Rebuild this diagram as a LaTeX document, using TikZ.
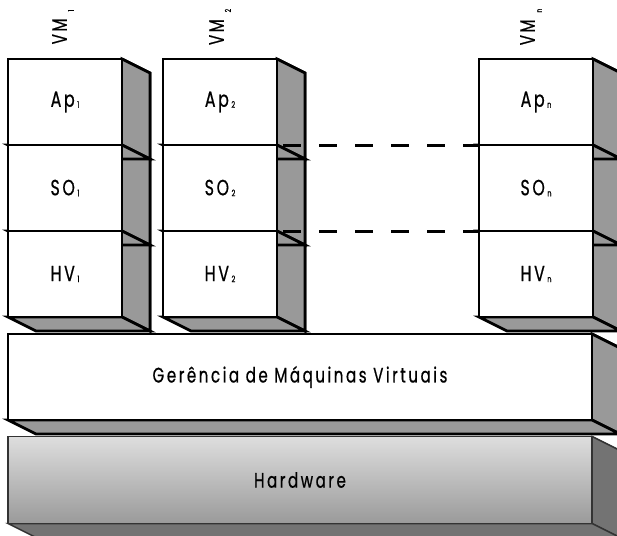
\documentclass[tikz,border=0pt]{standalone}
\usepackage{fontspec}
\usetikzlibrary{calc}
\newfontfamily\labfont{Poppins}[FakeStretch=0.72, LetterSpace=12, FakeBold=0.6]
\newcommand\idx[1]{\hspace{2.5pt}\raisebox{-1pt}{\fontsize{9}{9}\selectfont #1}}
\newcommand\vmidx[1]{\hspace{7pt}\raisebox{-7pt}{\fontsize{8}{8}\selectfont #1}}
\definecolor{sidegray}{HTML}{999999}
\definecolor{hwside}{HTML}{737373}
\definecolor{hwline}{HTML}{333333}
\definecolor{hwtop}{HTML}{DEDEDE}
\definecolor{hwbot}{HTML}{9A9A9A}
\pgfdeclarelayer{faces}
\pgfsetlayers{faces,main}
\tikzset{
  cell/.style={draw=black, fill=white, line width=2.8pt, minimum width=114pt,
    minimum height=86pt, inner sep=0pt, outer sep=0pt,
    font=\labfont\fontsize{22}{22}\selectfont},
  vmlabel/.style={rotate=90, inner sep=0pt, font=\labfont\fontsize{21}{21}\selectfont},
  layer/.style={draw=black, fill=white, line width=2.8pt, minimum width=584pt,
    minimum height=86pt, inner sep=0pt, outer sep=0pt,
    font=\labfont\fontsize{21}{21}\selectfont},
  hwbox/.style={draw=hwline, top color=hwtop, bottom color=hwbot, line width=1.5pt,
    minimum width=584pt, minimum height=87pt, inner sep=0pt, outer sep=0pt,
    font=\labfont\fontsize{21}{21}\selectfont},
  sideface/.style={fill=sidegray, draw=black, line width=2.8pt, line join=miter},
  hwface/.style={fill=hwside, draw=hwline, line width=1.5pt, line join=miter},
  dashline/.style={draw=black, line width=3pt, dash pattern=on 18pt off 18pt}
}
% side faces of a box: right face and bottom face, depth (28,14)
\newcommand\boxsides[2]{%
  \fill[#2] (#1.north east) -- ++(28,14) -- ($(#1.south east)+(28,14)$)
    -- (#1.south east) -- cycle;
  \draw[#2] (#1.north east) -- ++(28,14) -- ($(#1.south east)+(28,14)$)
    -- (#1.south east);
  \filldraw[#2] (#1.south west) -- (#1.south east) -- ++(28,14)
    -- ($(#1.south west)+(28,14)$) -- cycle;
}
\begin{document}
\begin{tikzpicture}[x=1pt, y=-1pt]
\useasboundingbox (0,0) rectangle (617,535);

% virtual machine columns
\foreach \n/\cx/\s in {1/65/1, 2/220/2, n/536/n}{
  \node[cell] (ap\n) at (\cx,102) {Ap\idx{\s}};
  \node[cell] (so\n) at (\cx,188) {SO\idx{\s}};
  \node[cell] (hv\n) at (\cx,274) {HV\idx{\s}};
}
\node[vmlabel] (vm1) at (63,27) {VM\vmidx{1}};
\node[vmlabel] (vm2) at (220,27) {VM\vmidx{2}};
\node[vmlabel] (vmn) at (531,27) {VM\vmidx{n}};

% virtual machine manager and hardware
\node[layer] (vmm) at (300,377) {Ger\^encia de M\'aquinas Virtuais};
\node[hwbox] (hw) at (300,480) {Hardware};

\begin{pgfonlayer}{faces}
  \boxsides{hw}{hwface}
  \boxsides{vmm}{sideface}
  \foreach \n in {1,2,n}{
    \boxsides{hv\n}{sideface}
    \boxsides{so\n}{sideface}
    \boxsides{ap\n}{sideface}
  }
\end{pgfonlayer}

% ellipsis between the second and the n-th machine
\draw[dashline] ([xshift=6pt]ap2.south east) -- (apn.south west);
\draw[dashline] ([xshift=6pt]so2.south east) -- (son.south west);
\end{tikzpicture}
\end{document}
